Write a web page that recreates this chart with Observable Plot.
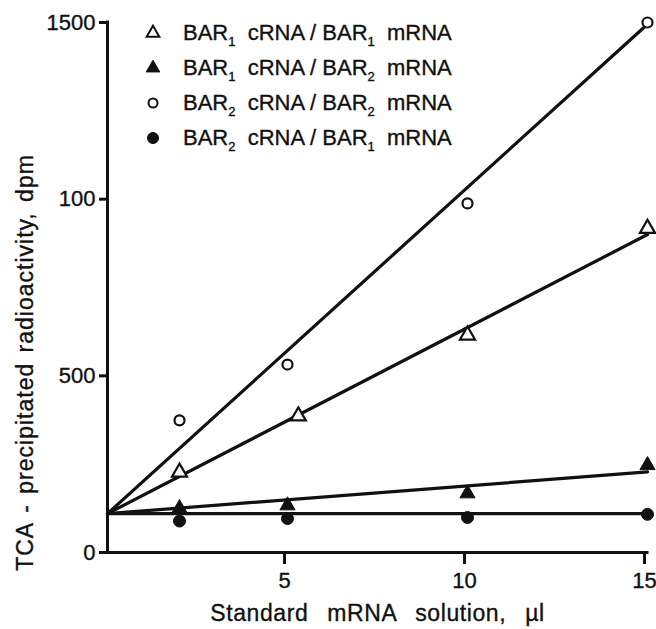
<!DOCTYPE html>
<html>
<head>
<meta charset="utf-8">
<script src="https://cdn.jsdelivr.net/npm/d3@7"></script>
<script src="https://cdn.jsdelivr.net/npm/@observablehq/plot@0.6"></script>
<style>
  html, body { margin: 0; padding: 0; background: white; }
  #wrap { position: relative; width: 656px; height: 629px; font-family: "Liberation Sans", Arial, sans-serif; color: #111; }
  #wrap > svg { position: absolute; left: 0; top: 0; }
  #wrap > svg text { stroke: #111; stroke-width: 0.35px; }
  #legend { position: absolute; left: 144px; top: 15px; font-size: 22px; color: #111; -webkit-text-stroke: 0.35px #111; }
  .row { display: flex; align-items: center; height: 35px; white-space: pre; }
  .row svg { width: 18px; height: 18px; margin-right: 21px; }
  .row sub { font-size: 13px; vertical-align: -6px; line-height: 0; color: #111; }
</style>
</head>
<body>
<div id="wrap"><div id="legend"></div></div>
<script>
// ---- data ----
const seriesNames = ["BAR1/BAR1", "BAR1/BAR2", "BAR2/BAR2", "BAR2/BAR1"];
const seriesLegendLabel = [
  ["BAR", "1", "  cRNA / BAR", "1", "  mRNA"],
  ["BAR", "1", "  cRNA / BAR", "2", "  mRNA"],
  ["BAR", "2", "  cRNA / BAR", "2", "  mRNA"],
  ["BAR", "2", "  cRNA / BAR", "1", "  mRNA"]
];
const seriesSymbol = ["triangle", "triangle", "circle", "circle"];
const seriesFilled = [false, true, false, true];

const xBar1Bar1 = [2, 5.3, 10, 15];
const yBar1Bar1 = [227, 386, 615, 917];
const xBar1Bar2 = [2, 5, 10, 15];
const yBar1Bar2 = [125, 133, 167, 247];
const xBar2Bar2 = [2, 5, 10, 15];
const yBar2Bar2 = [374, 532, 988, 1500];
const xBar2Bar1 = [2, 5, 10, 15];
const yBar2Bar1 = [89, 96, 99, 108];

// fitted straight lines (value at x = 0 and at x = 15)
const fitX = [0, 15];
const fitStart = [110, 110, 110, 110];
const fitEnd = [900, 228, 1495, 110];

const xTicks = [5, 10, 15];
const yTicks = [0, 500, 1000, 1500];
const yTickLabels = ["0", "500", "100", "1500"];

const xLabel = "Standard mRNA solution, \u00B5l";
const yLabel = "TCA - precipitated radioactivity, dpm";

// ---- build tables ----
const xs = [xBar1Bar1, xBar1Bar2, xBar2Bar2, xBar2Bar1];
const ys = [yBar1Bar1, yBar1Bar2, yBar2Bar2, yBar2Bar1];
const points = [];
seriesNames.forEach((s, i) => xs[i].forEach((x, j) => points.push({series: s, i, x, y: ys[i][j]})));
const fits = [];
seriesNames.forEach((s, i) => {
  fits.push({series: s, x: fitX[0], y: fitStart[i]});
  fits.push({series: s, x: fitX[1], y: fitEnd[i]});
});
const yLabelMap = new Map(yTicks.map((t, i) => [t, yTickLabels[i]]));
const ink = "#111";

const dotMarks = seriesNames.map((s, i) => Plot.dot(points.filter(d => d.i === i), {
  x: "x", y: "y",
  symbol: seriesSymbol[i],
  r: seriesSymbol[i] === "triangle" ? 5.6 : (seriesFilled[i] ? 6 : 5),
  fill: seriesFilled[i] ? ink : "white",
  stroke: ink,
  strokeWidth: seriesFilled[i] ? 1 : 2.2
}));

const chart = Plot.plot({
  width: 656,
  height: 629,
  marginLeft: 107,
  marginRight: 9,
  marginTop: 22,
  marginBottom: 77,
  x: {domain: [0, 15]},
  y: {domain: [0, 1500]},
  style: {fontFamily: "Liberation Sans, Arial, sans-serif", fontSize: "22px", color: ink, background: "white"},
  marks: [
    Plot.axisY(yTicks, {tickSize: 8, tickPadding: 4, strokeWidth: 3, tickFormat: d => yLabelMap.get(d), label: null, fontSize: 22}),
    Plot.axisX(xTicks, {tickSize: 12, tickPadding: 8, strokeWidth: 3, tickFormat: d => String(d), label: null, fontSize: 22, dx: -3}),
    Plot.ruleX([0], {y1: 0, y2: 1500, stroke: ink, strokeWidth: 3, strokeLinecap: "square"}),
    Plot.ruleY([0], {x1: 0, x2: 15, stroke: ink, strokeWidth: 3, strokeLinecap: "square"}),
    Plot.line(fits, {x: "x", y: "y", z: "series", stroke: ink, strokeWidth: 3.2}),
    ...dotMarks,
    Plot.text([yLabel], {frameAnchor: "left", textAnchor: "middle", dx: -82, dy: 75, rotate: -90, fontSize: 23, fill: ink}),
    Plot.text([xLabel], {frameAnchor: "bottom", textAnchor: "middle", dy: 68, fontSize: 23, fill: ink})
  ]
});
document.getElementById("wrap").prepend(chart);

// widen the spaced-out axis titles like the typeset original
d3.select(chart).selectAll("text").each(function () {
  const t = this.textContent;
  if (t === yLabel) { this.style.letterSpacing = "1px"; this.style.wordSpacing = "3px"; }
  if (t === xLabel) { this.style.letterSpacing = "0.6px"; this.style.wordSpacing = "12px"; }
});

// ---- legend (HTML overlay, uses subscripts) ----
const legend = d3.select("#legend");
seriesNames.forEach((s, i) => {
  const row = legend.append("div").attr("class", "row");
  const svg = row.append("svg").attr("viewBox", "-9 -9 18 18");
  if (seriesSymbol[i] === "triangle") {
    svg.append("path").attr("d", d3.symbol(d3.symbolTriangle, seriesFilled[i] ? 80 : 70)())
      .attr("fill", seriesFilled[i] ? ink : "white").attr("stroke", ink).attr("stroke-width", seriesFilled[i] ? 1 : 2);
  } else {
    svg.append("circle").attr("r", seriesFilled[i] ? 5.5 : 4.5)
      .attr("fill", seriesFilled[i] ? ink : "white").attr("stroke", ink).attr("stroke-width", seriesFilled[i] ? 1 : 2);
  }
  const span = row.append("span");
  const parts = seriesLegendLabel[i];
  span.append("span").text(parts[0]);
  span.append("sub").text(parts[1]);
  span.append("span").text(parts[2]);
  span.append("sub").text(parts[3]);
  span.append("span").text(parts[4]);
});
</script>
</body>
</html>
